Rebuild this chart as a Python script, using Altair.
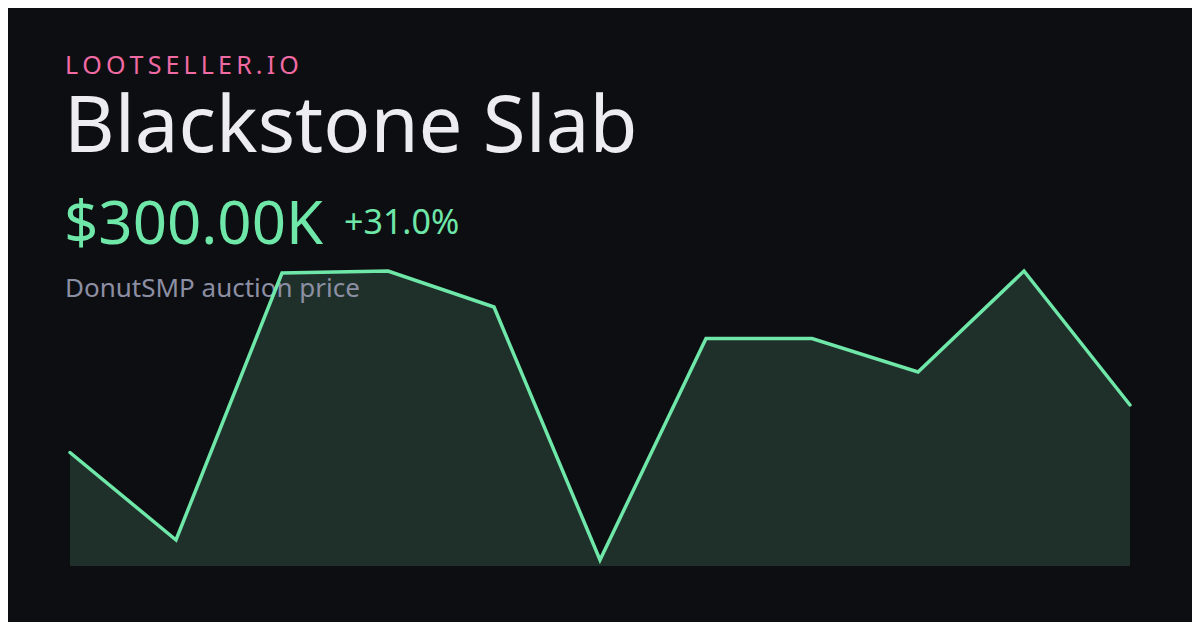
import altair as alt
import pandas as pd

# ---- data ----
points = list(range(11))
prices_k = [229.0, 98.2, 497.3, 500.3, 446.5, 68.3, 399.4, 399.4, 349.3, 500.3, 300.0]

brand = "LOOTSELLER.IO"
item_name = "Blackstone Slab"
price_label = "$300.00K"
change_label = "+31.0%"
subtitle = "DonutSMP auction price"

# ---- styling ----
BG = "#0d0e12"
GREEN = "#6ee7a8"
AREA = "#1f302b"
PINK = "#f06aa3"
WHITE = "#ececf1"
GREY = "#8c8fa3"
FONT = "Noto Sans"

W, H = 1184, 614
y_dom = [59.3, 509.3]

df = pd.DataFrame({"i": points, "v": prices_k})

xs = alt.Scale(domain=[0, 10], range=[62, 1122])
ys = alt.Scale(domain=y_dom, range=[558, 257])

base = alt.Chart(df)

area = base.mark_area(color=AREA, opacity=1).encode(
    x=alt.X("i:Q", scale=xs, axis=None),
    y=alt.Y("v:Q", scale=ys, axis=None),
    y2=alt.datum(y_dom[0]),
)

line = base.mark_line(color=GREEN, strokeWidth=3.5, strokeJoin="miter", strokeCap="round").encode(
    x=alt.X("i:Q", scale=xs, axis=None),
    y=alt.Y("v:Q", scale=ys, axis=None),
)

def txt(s, x, y, size, color, spaced=False):
    t = s
    if spaced:
        t = "\u2009".join(list(s))
    return alt.Chart(pd.DataFrame({"t": [t]})).mark_text(
        align="left", baseline="alphabetic", font=FONT, fontSize=size, color=color
    ).encode(x=alt.value(x), y=alt.value(y), text="t:N")

texts = [
    txt(brand, 57, 66, 25, PINK, spaced=True),
    txt(item_name, 56, 144, 78, WHITE),
    txt(price_label, 56, 236, 60, GREEN),
    txt(change_label, 336, 226, 34, GREEN),
    txt(subtitle, 57, 289, 26, GREY),
]

chart = alt.layer(area, *texts, line).properties(
    width=W, height=H, background=BG,
    autosize=alt.AutoSizeParams(type="none"), padding=0,
).configure_view(strokeWidth=0)

chart.save("out.html", embed_options={"renderer": "svg", "actions": False})
